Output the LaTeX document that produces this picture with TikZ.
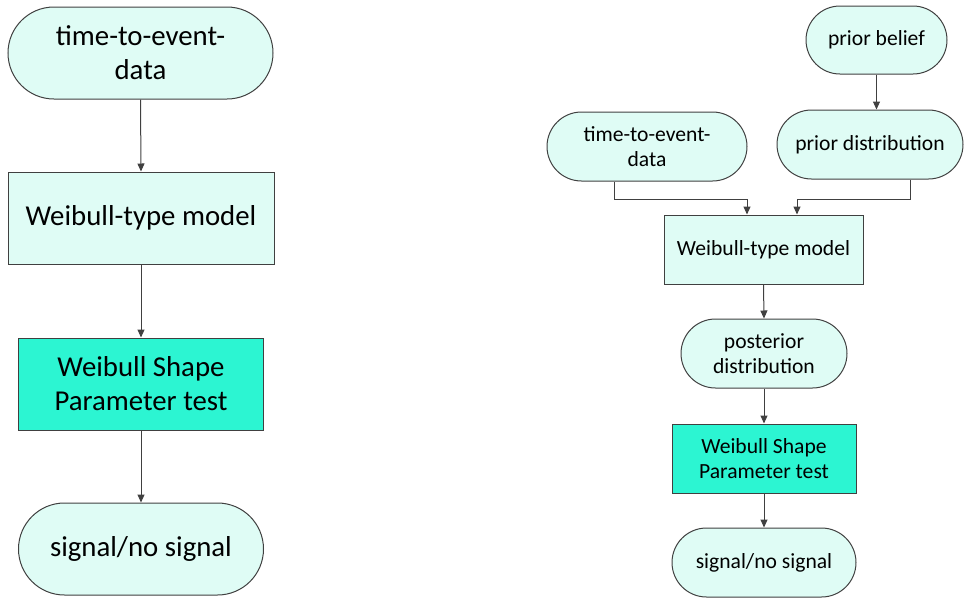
\documentclass[tikz,border=0pt]{standalone}
\usepackage{fontspec}
\setmainfont{Carlito}
\usetikzlibrary{arrows.meta}
\definecolor{lightfill}{RGB}{223,252,245}
\definecolor{tealfill}{RGB}{44,245,210}
\definecolor{edge}{RGB}{64,64,64}
\tikzset{
  base/.style={draw=edge, line width=1pt, align=center, inner sep=0pt, text=black},
  bigfont/.style={font=\fontsize{28.8}{34}\selectfont},
  smallfont/.style={font=\fontsize{21.6}{24.5}\selectfont},
  pill/.style={base, fill=lightfill},
  boxlight/.style={base, fill=lightfill},
  boxteal/.style={base, fill=tealfill},
  arr/.style={draw=edge, line width=1pt, -{Triangle[length=8pt,width=7pt]}},
}
\begin{document}
\begin{tikzpicture}[x=1pt,y=-1pt]
\useasboundingbox (0,0) rectangle (964,598);
% left column
\node[pill, bigfont, minimum width=265pt, minimum height=92pt, rounded corners=46pt] (l1) at (140.5,53) {time-to-event-\\data};
\node[boxlight, bigfont, minimum width=266pt, minimum height=92pt] (l2) at (141,218) {Weibull-type model};
\node[boxteal, bigfont, minimum width=245pt, minimum height=92pt] (l3) at (141,384) {Weibull Shape\\Parameter test};
\node[pill, bigfont, minimum width=245pt, minimum height=92pt, rounded corners=46pt] (l4) at (141,549) {signal/no signal};
\draw[arr] (l1.south) -- (l2.north);
\draw[arr] (l2.south) -- (l3.north);
\draw[arr] (l3.south) -- (l4.north);
% right column
\node[pill, smallfont, minimum width=141pt, minimum height=68pt, rounded corners=34pt] (pb) at (876.5,40) {prior belief};
\node[pill, smallfont, minimum width=186pt, minimum height=69pt, rounded corners=34.5pt] (pd) at (870,144.5) {prior distribution};
\node[pill, smallfont, minimum width=200pt, minimum height=69pt, rounded corners=34.5pt] (tte) at (647,146.5) {time-to-event-\\data};
\node[boxlight, smallfont, minimum width=199pt, minimum height=69pt] (wm) at (763.5,249.5) {Weibull-type model};
\node[pill, smallfont, minimum width=166pt, minimum height=69pt, rounded corners=34.5pt] (post) at (764,353.5) {posterior\\distribution};
\node[boxteal, smallfont, minimum width=184pt, minimum height=69pt] (wsp) at (764,458.5) {Weibull Shape\\Parameter test};
\node[pill, smallfont, minimum width=184pt, minimum height=69pt, rounded corners=34.5pt] (sig) at (764,562.5) {signal/no signal};
\draw[arr] (pb.south) -- (pb.south |- pd.north);
\draw[arr] ([xshift=-33pt]tte.south) -- ++(0,18) -| ([xshift=-16.5pt]wm.north);
\draw[arr] ([xshift=40pt]pd.south) -- ++(0,19.5) -| ([xshift=33.5pt]wm.north);
\draw[arr] (wm.south) -- (post.north);
\draw[arr] (post.south) -- (wsp.north);
\draw[arr] (wsp.south) -- (sig.north);
\end{tikzpicture}
\end{document}
